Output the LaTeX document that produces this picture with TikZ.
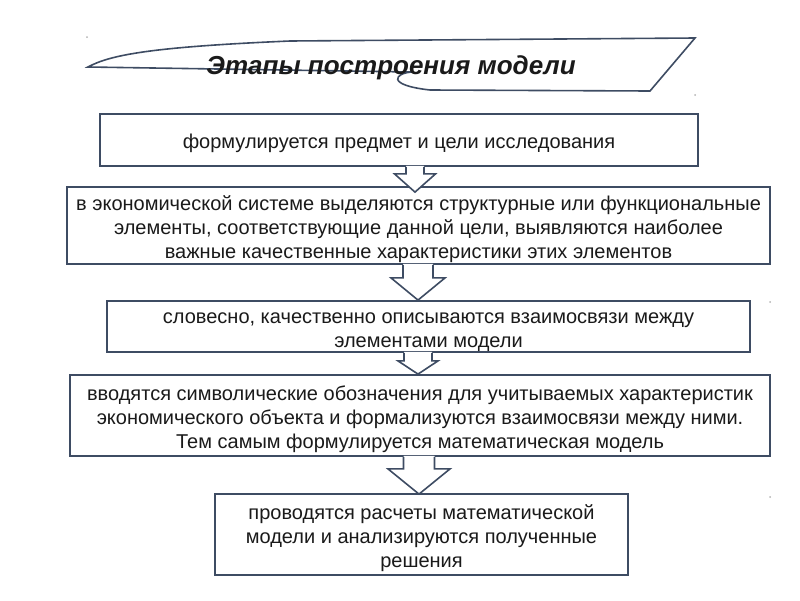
\documentclass[tikz,border=0pt]{standalone}
\usepackage{fontspec}
\setmainfont{Liberation Sans}
\usetikzlibrary{calc}
\definecolor{framecolor}{HTML}{3E4C63}
\definecolor{inkcolor}{HTML}{1A1A1A}
\newcommand\lowline{\rule{0pt}{22pt}}
\begin{document}
\begin{tikzpicture}
[x=1pt,y=-1pt,
  boxdecorate/.style={shape=rectangle,draw=framecolor,line width=1.8pt,fill=white,align=center,inner sep=0pt,text=inkcolor,font=\fontsize{20}{24}\selectfont},%
  arrowdecorate/.style={draw=framecolor,line width=1.6pt,line join=miter},
  dotdecorate/.style={shape=circle,fill=gray!60,inner sep=0pt,minimum size=2pt}]
\useasboundingbox (0,0) rectangle (800,600);
%% title banner
\draw[arrowdecorate,fill=white] (88,67) .. controls (110,55) and (150,47) .. (290,41) -- (695,38) -- (650,91) -- (430,90)
  .. controls (385,85) and (395,73) .. (412,72) -- cycle;
\node (title) at (391,68) [text=inkcolor,font=\fontsize{26}{28}\selectfont\bfseries\itshape] {Этапы построения модели};
%% stray dots
\foreach \dotname/\x/\y in {d1/87/37, d2/695/95, d3/770/302, d4/770/497} {
  \node (\dotname) at (\x,\y) [dotdecorate] {};
}
%% stages
\node (s1) at (399,140) [boxdecorate,minimum width=598pt,minimum height=52pt] {\lowline формулируется предмет и цели исследования};
\node (s2) at (418.5,225.5) [boxdecorate,minimum width=703pt,minimum height=77pt] {\lowline в экономической системе выделяются структурные или функциональные\\элементы, соответствующие данной цели, выявляются наиболее\\важные качественные характеристики этих элементов};
\node (s3) at (428.5,326.5) [boxdecorate,minimum width=643pt,minimum height=51pt] {\lowline словесно, качественно описываются взаимосвязи между\\элементами модели};
\node (s4) at (420,415.5) [boxdecorate,minimum width=700pt,minimum height=81pt] {\lowline вводятся символические обозначения для учитываемых характеристик\\экономического объекта и формализуются взаимосвязи между ними.\\Тем самым формулируется математическая модель};
\node (s5) at (421.5,534.5) [boxdecorate,minimum width=413pt,minimum height=81pt] {\lowline проводятся расчеты математической\\модели и анализируются полученные\\решения};
%% block arrows between stages
\foreach \startnode/\endnode/\ax/\hw/\hh/\hs/\td in {s1/s2/415/9/20.5/7/6, s2/s3/418/15/27/13/0, s3/s4/418/14/20/8/0, s4/s5/419/15.5/31/12/1} {
  \fill[white] let \p1=(\startnode.south), \p2=(\endnode.north) in
    (\ax pt-\hw pt,\y1+1pt) -- (\ax pt-\hw pt,\y1-\hs pt) -- (\ax pt-\hh pt,\y1-\hs pt) -- (\ax pt,\y2-\td pt)
    -- (\ax pt+\hh pt,\y1-\hs pt) -- (\ax pt+\hw pt,\y1-\hs pt) -- (\ax pt+\hw pt,\y1+1pt) -- cycle;
  \draw[arrowdecorate] let \p1=(\startnode.south), \p2=(\endnode.north) in
    (\ax pt-\hw pt,\y1) -- (\ax pt-\hw pt,\y1-\hs pt) -- (\ax pt-\hh pt,\y1-\hs pt) -- (\ax pt,\y2-\td pt)
    -- (\ax pt+\hh pt,\y1-\hs pt) -- (\ax pt+\hw pt,\y1-\hs pt) -- (\ax pt+\hw pt,\y1);
}
\end{tikzpicture}
\end{document}
